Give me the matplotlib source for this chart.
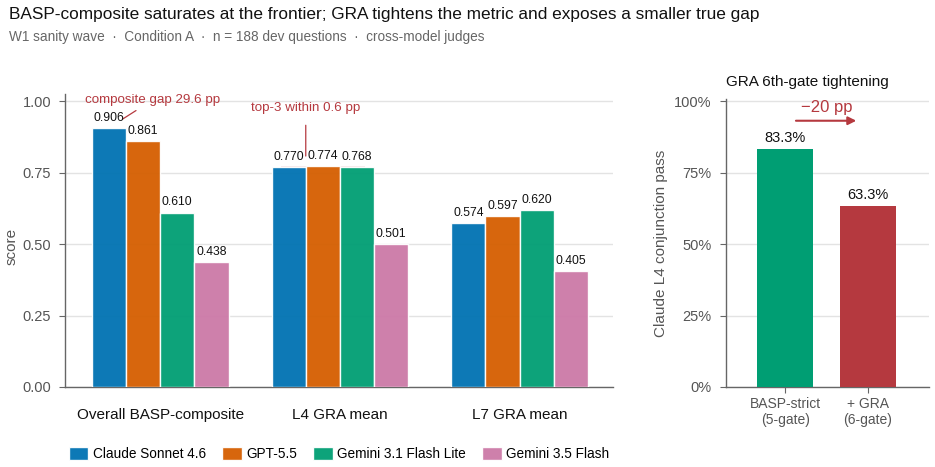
import matplotlib
matplotlib.use("Agg")
import matplotlib.pyplot as plt
import numpy as np
from matplotlib.patches import Rectangle

plt.rcParams['font.family'] = ['Liberation Sans', 'DejaVu Sans']

# ---- data ----
groups = ["Overall BASP-composite", "L4 GRA mean", "L7 GRA mean"]
models = ["Claude Sonnet 4.6", "GPT-5.5", "Gemini 3.1 Flash Lite", "Gemini 3.5 Flash"]
claude = [0.906, 0.770, 0.574]
gpt = [0.861, 0.774, 0.597]
gem31 = [0.610, 0.768, 0.620]
gem35 = [0.438, 0.501, 0.405]
series = [claude, gpt, gem31, gem35]
colors = ["#0072B2", "#D55E00", "#009E73", "#CC79A7"]

gate_labels = ["BASP-strict\n(5-gate)", "+ GRA\n(6-gate)"]
gate_values = [0.833, 0.633]
gate_colors = ["#009E73", "#B5393F"]
gap_label = "composite gap 29.6 pp"
top3_label = "top-3 within 0.6 pp"
delta_label = "\u221220 pp"

RED = "#B5393F"
GRID = "#E3E3E3"
SPINE = "#666666"
TICK = "#555555"

fig = plt.figure(figsize=(9.35, 4.67), dpi=100)
ax = fig.add_axes([65/935, 1-387/467, (613-65)/935, (387-94)/467])
ax2 = fig.add_axes([725.7/935, 1-387/467, (929-725.7)/935, (387-99)/467])

# ---- left panel ----
x = np.arange(len(groups))
w = 0.19
for i, (vals, c, m) in enumerate(zip(series, colors, models)):
    xs = x + (i - 1.5) * w
    ax.bar(xs, vals, width=w, color=c, edgecolor="white", linewidth=1.0,
           label=m, zorder=3, alpha=0.95)
    for xi, v in zip(xs, vals):
        ax.annotate(f"{v:.3f}", (xi, v), xytext=(0, 3), textcoords="offset points",
                    ha="center", va="bottom", fontsize=8.7, color="#111111", zorder=5)

ax.set_xlim(-0.53, 2.52)
ax.set_ylim(0, 1.025)
ax.set_yticks([0, 0.25, 0.5, 0.75, 1.0])
ax.set_yticklabels([f"{t:.2f}" for t in [0, 0.25, 0.5, 0.75, 1.0]])
ax.set_xticks(x)
ax.set_xticklabels(groups, fontsize=11, color="#111111")
ax.tick_params(axis="x", length=0, pad=15)
ax.tick_params(axis="y", length=4, color=SPINE, labelcolor=TICK, labelsize=10.5, pad=6)
ax.yaxis.grid(True, color=GRID, linewidth=1, zorder=0)
ax.set_axisbelow(True)
for s in ["top", "right"]:
    ax.spines[s].set_visible(False)
for s in ["left", "bottom"]:
    ax.spines[s].set_color(SPINE)
    ax.spines[s].set_linewidth(1.0)
ax.set_ylabel("score", fontsize=11, color=TICK)
ax.yaxis.set_label_coords((19 - 65) / 548, 0.48)

# top-3 band
top3 = [claude[1], gpt[1], gem31[1]]
ax.add_patch(Rectangle((x[1] - 0.33, min(top3)), 0.47, max(top3) - min(top3),
                       color=RED, alpha=0.12, zorder=2, linewidth=0))

# composite gap annotation
ax.annotate(gap_label, xy=(x[0] - 1.5 * w + 0.075, claude[0] + 0.031),
            xytext=(x[0] - 0.045, 1.003), textcoords="data",
            ha="center", va="center", fontsize=9.6, color=RED,
            arrowprops=dict(arrowstyle="-", color=RED, lw=0.9, shrinkA=2, shrinkB=0))
# top-3 annotation
ax.annotate(top3_label, xy=(x[1] - w, max(top3) + 0.034),
            xytext=(x[1] - w, 0.9755), textcoords="data",
            ha="center", va="center", fontsize=9.6, color=RED,
            arrowprops=dict(arrowstyle="-", color=RED, lw=0.9, shrinkA=6, shrinkB=0))

leg = ax.legend(loc="center", bbox_to_anchor=(0.5, (387 - 454) / 293), ncol=4, frameon=False,
                fontsize=9.8, handlelength=1.45, handleheight=1.05, columnspacing=1.15,
                handletextpad=0.35, borderaxespad=0)

# ---- right panel ----
gx = np.arange(len(gate_labels))
ax2.bar(gx, gate_values, width=0.68, color=gate_colors, zorder=3)
for xi, v in zip(gx, gate_values):
    ax2.annotate(f"{v*100:.1f}%", (xi, v), xytext=(0, 2.5), textcoords="offset points",
                 ha="center", va="bottom", fontsize=10.5, color="#111111")
ax2.set_xlim(-0.72, 1.74)
ax2.set_ylim(0, 1.007)
ax2.set_yticks([0, 0.25, 0.5, 0.75, 1.0])
ax2.set_yticklabels(["0%", "25%", "50%", "75%", "100%"])
ax2.set_xticks(gx)
ax2.set_xticklabels(gate_labels, fontsize=10, color=TICK, linespacing=1.2)
ax2.tick_params(axis="x", length=4, color=SPINE, pad=3)
ax2.tick_params(axis="y", length=4, color=SPINE, labelcolor=TICK, labelsize=10.5, pad=6)
ax2.yaxis.grid(True, color=GRID, linewidth=1, zorder=0)
ax2.set_axisbelow(True)
for s in ["top", "right"]:
    ax2.spines[s].set_visible(False)
for s in ["left", "bottom"]:
    ax2.spines[s].set_color(SPINE)
    ax2.spines[s].set_linewidth(1.0)
ax2.set_ylabel("Claude L4 conjunction pass", fontsize=11, color=TICK)
ax2.yaxis.set_label_coords((668 - 725.7) / 203.3, 0.5)
ax2.annotate("", xy=(0.86, 0.931), xytext=(0.13, 0.931),
             arrowprops=dict(arrowstyle="-|>", color=RED, lw=1.5, mutation_scale=12,
                             shrinkA=0, shrinkB=0))
ax2.text(0.5, 0.978, delta_label, ha="center", va="center", fontsize=12, color=RED)
fig.text(807/935, 1 - 82/467, "GRA 6th-gate tightening", ha="center", va="center",
         fontsize=11, color="#111111")

# ---- titles ----
fig.text(9/935, 1 - 14/467,
         "BASP-composite saturates at the frontier; GRA tightens the metric and exposes a smaller true gap",
         ha="left", va="center", fontsize=12.4, color="#111111")
fig.text(9/935, 1 - 37/467,
         "W1 sanity wave  \u00b7  Condition A  \u00b7  n = 188 dev questions  \u00b7  cross-model judges",
         ha="left", va="center", fontsize=9.8, color="#666666")

fig.savefig("out.png", dpi=100)
